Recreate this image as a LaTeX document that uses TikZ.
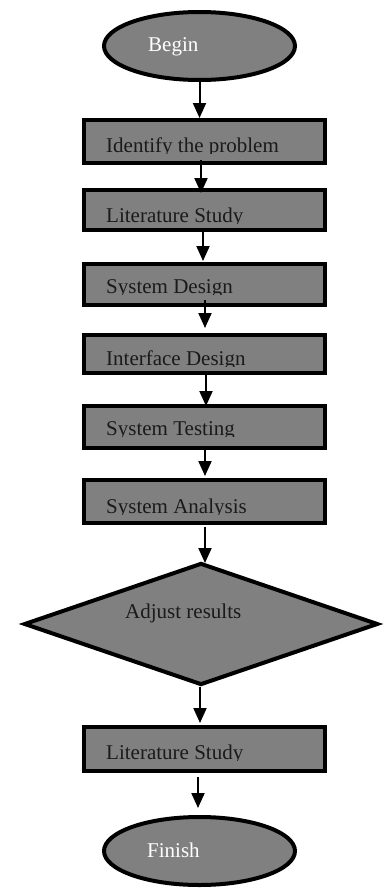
\documentclass[tikz,border=0pt]{standalone}
\usepackage{fontspec}
\setmainfont{Liberation Serif}
\usetikzlibrary{shapes.geometric,arrows.meta}
\definecolor{boxgray}{HTML}{808080}
\definecolor{inktext}{HTML}{1A1A1A}
\begin{document}
\begin{tikzpicture}[x=1pt,y=-1pt,
  shapeborder/.style={draw=black, line width=4pt, fill=boxgray, inner sep=0pt},
  stepbox/.style={shapeborder, rectangle, minimum width=241pt},
  terminal/.style={shapeborder, ellipse, minimum width=191pt, minimum height=68pt},
  decision/.style={shapeborder, diamond, minimum width=354pt, minimum height=122pt},
  steptext/.style={anchor=base west, inner sep=0pt, text=inktext, font=\fontsize{21}{25}\selectfont},
  termtext/.style={steptext, text=white},
  flow/.style={line width=2pt, -{Triangle[length=15pt,width=13pt]}},
]
\useasboundingbox (0,0) rectangle (385,889);

% shapes
\node[terminal] (begin) at (199.5,46) {};
\node[stepbox, minimum height=43pt] (b1) at (204.5,141.5) {};
\node[stepbox, minimum height=40pt] (b2) at (204.5,210) {};
\node[stepbox, minimum height=41pt] (b3) at (204.5,284.5) {};
\node[stepbox, minimum height=38pt] (b4) at (204.5,354) {};
\node[stepbox, minimum height=42pt] (b5) at (204.5,427) {};
\node[stepbox, minimum height=43pt] (b6) at (204.5,501.5) {};
\node[decision] (dec) at (201,624) {};
\node[stepbox, minimum height=44pt] (b7) at (204.5,749) {};
\node[terminal] (finish) at (199.5,851) {};

% labels (box texts are cut off just under the baseline)
\node[termtext] (tbegin) at (148,51) {Begin};
\begin{scope}\clip (84,120) rectangle (325,153);
  \node[steptext] (t1) at (106,152) {Identify the problem};\end{scope}
\begin{scope}\clip (84,190) rectangle (325,223);
  \node[steptext] (t2) at (106,222) {Literature Study};\end{scope}
\begin{scope}\clip (84,264) rectangle (325,294);
  \node[steptext] (t3) at (106,293) {System Design};\end{scope}
\begin{scope}\clip (84,335) rectangle (325,366);
  \node[steptext] (t4) at (106,365) {Interface Design};\end{scope}
\begin{scope}\clip (84,406) rectangle (325,436);
  \node[steptext] (t5) at (106,435) {System Testing};\end{scope}
\begin{scope}\clip (84,480) rectangle (325,514);
  \node[steptext] (t6) at (106,513) {System Analysis};\end{scope}
\node[steptext] (tdec) at (125,618) {Adjust results};
\begin{scope}\clip (84,727) rectangle (325,760);
  \node[steptext] (t7) at (106,759) {Literature Study};\end{scope}
\node[termtext] (tfinish) at (147,857) {Finish};

% connectors
\draw[flow] (begin.south) -- (begin.south |- b1.north);
\draw[flow] ([shift={(-3.5,-5)}]b1.south) -- ([shift={(-3.5,5)}]b2.north);
\draw[flow] ([shift={(-1.5,-2)}]b2.south) -- ([shift={(-1.5,-1)}]b3.north);
\draw[flow] ([shift={(0.5,-7)}]b3.south) -- ([shift={(0.5,-5)}]b4.north);
\draw[flow] ([shift={(1.5,0)}]b4.south) -- ([shift={(1.5,2)}]b5.north);
\draw[flow] ([shift={(0.5,-1)}]b5.south) -- ([shift={(0.5,-2)}]b6.north);
\draw[flow] ([shift={(0.5,2)}]b6.south) -- ([shift={(0.5,2)}]b6.south |- dec.north);
\draw[flow] ([xshift=-1pt]dec.south) -- ([shift={(-4.5,-2)}]b7.north);
\draw[flow] ([shift={(-6.5,4)}]b7.south) -- ([shift={(-1.5,-7)}]finish.north);
\end{tikzpicture}
\end{document}
